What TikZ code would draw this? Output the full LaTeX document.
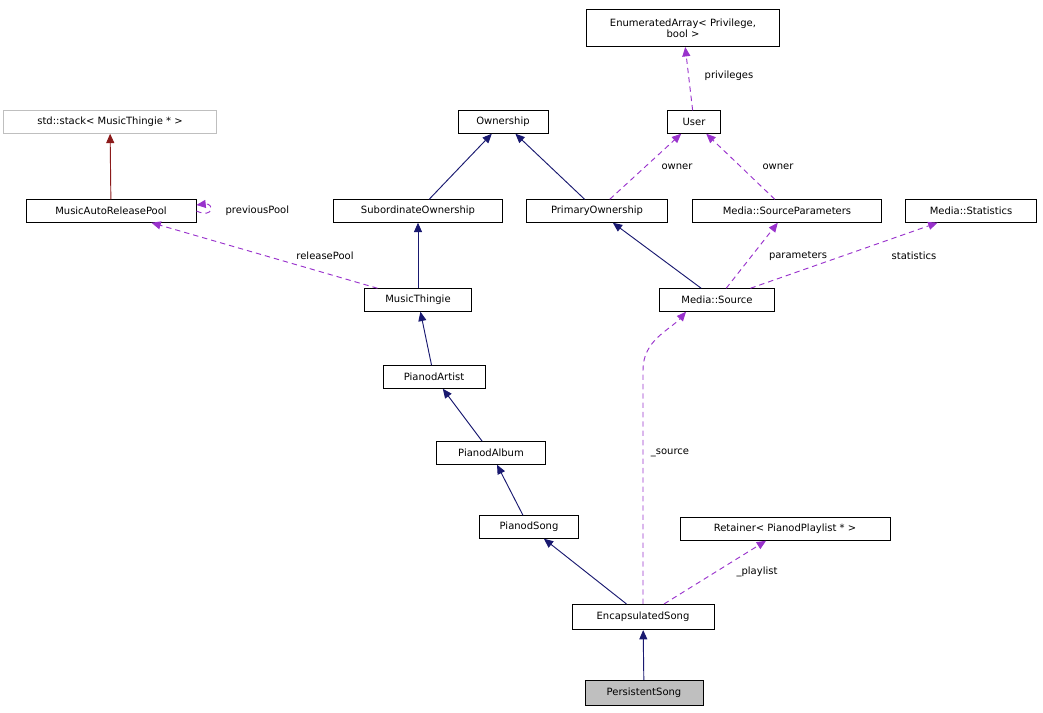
\documentclass[tikz,border=0pt]{standalone}
\usepackage{fontspec}
\setmainfont{DejaVu Sans}
\usetikzlibrary{arrows.meta}
\begin{document}
\begin{tikzpicture}[x=0.75pt,y=-0.75pt,
 box/.style={draw=black,fill=white,inner sep=0pt,minimum height=17pt,font=\fontsize{7.5}{8.5}\selectfont,anchor=center,line width=0.6pt},
 inh/.style={draw={rgb,255:red,25;green,25;blue,112},line width=0.7pt,-{Triangle[length=7pt,width=6pt]}},
 use/.style={draw={rgb,255:red,153;green,50;blue,204},dash pattern=on 4pt off 3pt,line width=0.7pt,-{Triangle[length=7pt,width=6pt]}},
 lab/.style={font=\fontsize{7.5}{8.5}\selectfont,inner sep=1pt}]
\useasboundingbox (0,0) rectangle (1043,713);
\node[box,minimum width=193*0.75pt,minimum height=28pt,align=center] (ea) at (683,28) {EnumeratedArray< Privilege,\\bool >};
\node[box,draw={rgb,255:red,191;green,191;blue,191},minimum width=213*0.75pt] (st) at (110,122) {std::stack< MusicThingie * >};
\node[box,minimum width=90*0.75pt] (ow) at (503,122) {Ownership};
\node[box,minimum width=53*0.75pt] (us) at (694,122) {User};
\node[box,minimum width=170*0.75pt] (mp) at (111,211) {MusicAutoReleasePool};
\node[box,minimum width=169*0.75pt] (so) at (418,211) {SubordinateOwnership};
\node[box,minimum width=141*0.75pt] (po) at (597,211) {PrimaryOwnership};
\node[box,minimum width=189*0.75pt] (sp) at (787,211) {Media::SourceParameters};
\node[box,minimum width=131*0.75pt] (ms) at (971,211) {Media::Statistics};
\node[box,minimum width=107*0.75pt] (mt) at (418,300) {MusicThingie};
\node[box,minimum width=115*0.75pt] (src) at (717,300) {Media::Source};
\node[box,minimum width=102*0.75pt] (ar) at (434,377) {PianodArtist};
\node[box,minimum width=109*0.75pt] (al) at (491,453) {PianodAlbum};
\node[box,minimum width=99*0.75pt] (sg) at (529,527) {PianodSong};
\node[box,minimum width=210*0.75pt] (rt) at (785,529) {Retainer< PianodPlaylist * >};
\node[box,minimum width=142*0.75pt,minimum height=19pt] (es) at (643,617) {EncapsulatedSong};
\node[box,fill={rgb,255:red,191;green,191;blue,191},minimum width=118*0.75pt,minimum height=19pt] (ps) at (644,693) {PersistentSong};
\draw[inh,draw={rgb,255:red,139;green,26;blue,26}] (mp) -- (st);
\draw[use] (mp.east) .. controls (214,219) and (214,203) .. (mp.north east |- 0,205);
\node[lab,anchor=west] (lpp) at (224,211) {previousPool};
\draw[inh] (so) -- (ow);
\draw[inh] (po) -- (ow);
\draw[use] (po) -- (us);
\node[lab] (l1) at (677,167) {owner};
\draw[use] (sp) -- (us);
\node[lab] (l2) at (778,167) {owner};
\draw[use] (us) -- (ea);
\node[lab] (l3) at (729,76) {privileges};
\draw[use] (mt) -- (mp);
\node[lab] (l4) at (325,256) {releasePool};
\draw[inh] (mt) -- (so);
\draw[inh] (src) -- (po);
\draw[use] (src) -- (sp);
\node[lab] (l5) at (798,256) {parameters};
\draw[use] (src) -- (ms);
\node[lab] (l6) at (914,256) {statistics};
\draw[inh] (ar) -- (mt);
\draw[inh] (al) -- (ar);
\draw[inh] (sg) -- (al);
\draw[inh] (es) -- (sg);
\draw[use] (es.north west -| 643,0) -- (643,370) .. controls (643,340) and (670,330) .. (src.south west -| 686,0);
\node[lab] (l7) at (670,453) {\_source};
\draw[use] (es) -- (rt);
\node[lab] (l8) at (757,572) {\_playlist};
\draw[inh] (ps) -- (es);
\end{tikzpicture}
\end{document}
